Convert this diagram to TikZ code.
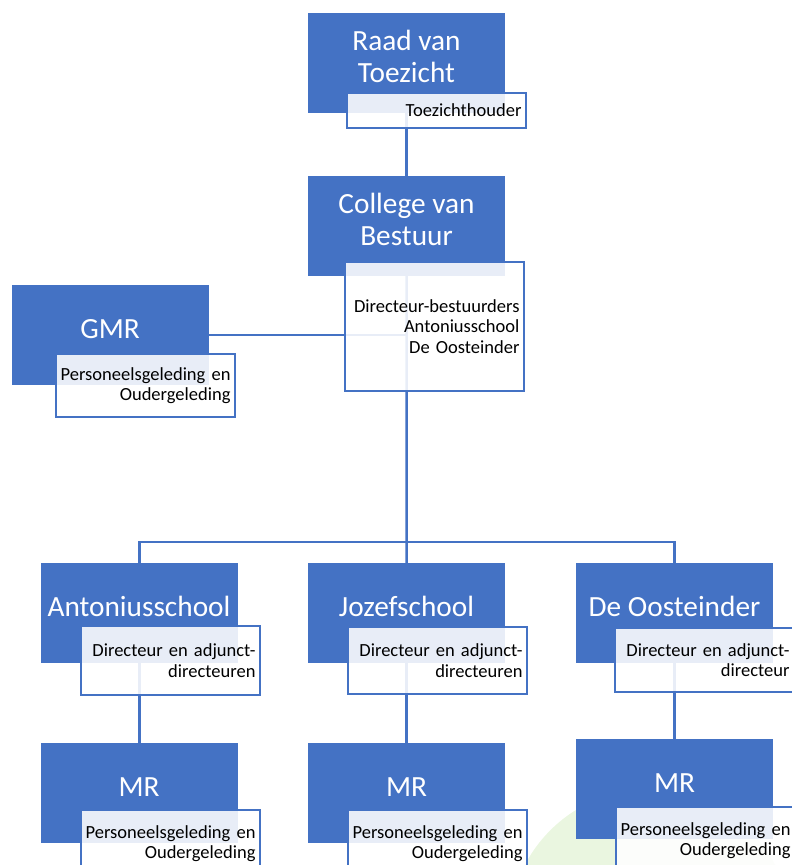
\documentclass[tikz,border=0pt]{standalone}
\usepackage{fontspec}
\setmainfont{Carlito}
\usetikzlibrary{backgrounds}
\definecolor{accent}{HTML}{4472C4}
\definecolor{wm}{HTML}{EAF6E0}
\begin{document}
\begin{tikzpicture}[x=1pt,y=-1pt,
  bluebox/.style={fill=accent, draw=none, minimum width=197pt, minimum height=100pt, inner sep=0pt, anchor=north west},
  headtext/.style={text=white, font=\fontsize{29.3}{32}\selectfont, align=center, inner sep=0pt},
  whitebox/.style={draw=accent, line width=2pt, fill=white, fill opacity=0.88, text opacity=1, text=black,
    font=\fontsize{18.5}{20.3}\selectfont, align=right, text width=170pt, inner xsep=4.5pt, inner ysep=0pt,
    minimum width=179pt, anchor=north west},
  conn/.style={draw=accent, line width=2.5pt}]
\useasboundingbox (0,0) rectangle (792,865);
\clip (0,0) rectangle (792,865);

% Raad van Toezicht
\node[bluebox] (raad) at (308,13) {};
\node[headtext] (raadT) at (406.5,56) {Raad van\\Toezicht};
\node[whitebox, minimum height=35pt] (raadW) at (346,92) {Toezichthouder};

% College van Bestuur
\node[bluebox] (college) at (308,176) {};
\node[headtext] (collegeT) at (406.5,219) {College van\\Bestuur};
\node[whitebox, minimum height=129pt] (collegeW) at (344,261) {Directeur-bestuurders\\Antoniusschool\\De Oosteinder};

% GMR
\node[bluebox] (gmr) at (12,285) {};
\node[headtext] (gmrT) at (110,329) {GMR};
\node[whitebox, minimum height=63pt] (gmrW) at (55,353) {Personeelsgeleding en\\Oudergeleding};

% Schools
\node[bluebox] (anton) at (41,563) {};
\node[headtext] (antonT) at (139,606) {Antoniusschool};
\node[whitebox, minimum height=69pt] (antonW) at (80,625) {Directeur en adjunct-\\directeuren};

\node[bluebox] (jozef) at (308,563) {};
\node[headtext] (jozefT) at (406.5,606) {Jozefschool};
\node[whitebox, minimum height=67pt] (jozefW) at (347,626) {Directeur en adjunct-\\directeuren};

\node[bluebox] (oost) at (576,563) {};
\node[headtext] (oostT) at (674.5,606) {De Oosteinder};
\node[whitebox, minimum height=64pt] (oostW) at (614,627) {Directeur en adjunct-\\directeur};

% MR
\node[bluebox] (mrL) at (41,743) {};
\node[headtext] (mrLT) at (139,787) {MR};
\node[whitebox, minimum height=67pt] (mrLW) at (80,809) {Personeelsgeleding en\\Oudergeleding};

\node[bluebox] (mrM) at (308,743) {};
\node[headtext] (mrMT) at (406.5,787) {MR};
\node[whitebox, minimum height=67pt] (mrMW) at (347,809) {Personeelsgeleding en\\Oudergeleding};

\node[bluebox] (mrR) at (576,739) {};
\node[headtext] (mrRT) at (674.5,783) {MR};
\node[whitebox, minimum height=67pt] (mrRW) at (615,806) {Personeelsgeleding en\\Oudergeleding};

\coordinate (split) at (406.5,542);

\begin{pgfonlayer}{background}
  \fill[wm] (650,930) circle[radius=141pt];
  \draw[conn] (raad.center) -- (college.center);
  \draw[conn] (college.center) -- (split);
  \draw[conn] (gmr.center) -- (gmr.center -| college.center);
  \draw[conn] (anton.center) |- (split) -| (oost.center);
  \draw[conn] (split) -- (jozef.center);
  \draw[conn] (anton.center) -- (mrL.center);
  \draw[conn] (jozef.center) -- (mrM.center);
  \draw[conn] (oost.center) -- (mrR.center);
\end{pgfonlayer}
\end{tikzpicture}
\end{document}
